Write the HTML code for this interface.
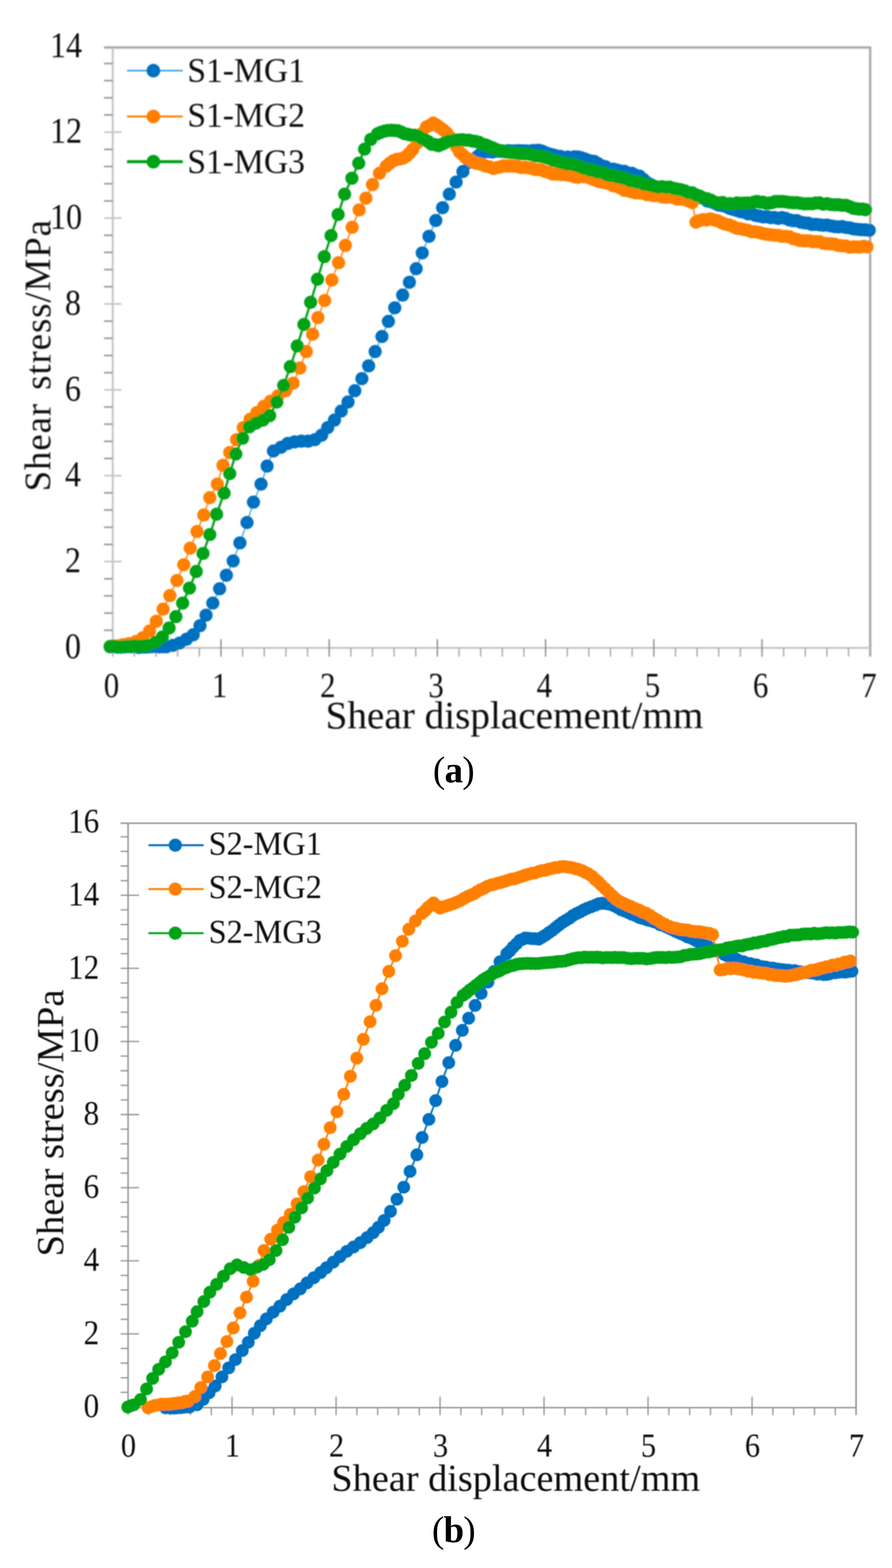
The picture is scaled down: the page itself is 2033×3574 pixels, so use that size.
<!DOCTYPE html>
<html lang="en"><head><meta charset="utf-8"><title>Shear stress vs. shear displacement</title>
<style>html,body{margin:0;padding:0;background:#fff}body{width:2033px;height:3574px;overflow:hidden}svg{display:block}text{font-family:'Liberation Serif',serif;fill:#111}</style></head>
<body>
<svg width="2033" height="3574" viewBox="0 0 2033 3574">
<defs><filter id="ba" x="-5%" y="-5%" width="110%" height="110%"><feGaussianBlur stdDeviation="1.7"/></filter><filter id="bb" x="-5%" y="-5%" width="110%" height="110%"><feGaussianBlur stdDeviation="0.9"/></filter></defs>
<rect width="2033" height="3574" fill="#fff"/>
<g id="chart-a" filter="url(#ba)">
<path d="M237.0 108.2H1983.3V1496.8" fill="none" stroke="#ababab" stroke-width="5.5" stroke-linejoin="round"/>
<path d="M257.0 108.2V1476.8H1983.3" fill="none" stroke="#c6c6c6" stroke-width="4.5"/>
<path d="M237.0 1436.6H257.0M237.0 1397.5H257.0M237.0 1358.3H257.0M237.0 1319.2H257.0M237.0 1240.9H257.0M237.0 1201.7H257.0M237.0 1162.6H257.0M237.0 1123.4H257.0M237.0 1045.1H257.0M237.0 1006.0H257.0M237.0 966.8H257.0M237.0 927.7H257.0M237.0 849.4H257.0M237.0 810.2H257.0M237.0 771.1H257.0M237.0 731.9H257.0M237.0 653.6H257.0M237.0 614.5H257.0M237.0 575.3H257.0M237.0 536.2H257.0M237.0 457.9H257.0M237.0 418.7H257.0M237.0 379.6H257.0M237.0 340.4H257.0M237.0 262.1H257.0M237.0 223.0H257.0M237.0 183.8H257.0M237.0 144.7H257.0" fill="none" stroke="#a0a0a0" stroke-width="4"/>
<path d="M237.0 1280.0H277.0M237.0 1084.3H277.0M237.0 888.5H277.0M237.0 692.8H277.0M237.0 497.0H277.0M237.0 301.3H277.0" fill="none" stroke="#c8c8c8" stroke-width="4"/>
<path d="M257.0 1476.8V1496.8M306.3 1476.8V1496.8M355.6 1476.8V1496.8M405.0 1476.8V1496.8M454.3 1476.8V1496.8M552.9 1476.8V1496.8M602.3 1476.8V1496.8M651.6 1476.8V1496.8M700.9 1476.8V1496.8M799.6 1476.8V1496.8M848.9 1476.8V1496.8M898.2 1476.8V1496.8M947.5 1476.8V1496.8M1046.2 1476.8V1496.8M1095.5 1476.8V1496.8M1144.8 1476.8V1496.8M1194.1 1476.8V1496.8M1292.8 1476.8V1496.8M1342.1 1476.8V1496.8M1391.4 1476.8V1496.8M1440.7 1476.8V1496.8M1539.4 1476.8V1496.8M1588.7 1476.8V1496.8M1638.0 1476.8V1496.8M1687.4 1476.8V1496.8M1786.0 1476.8V1496.8M1835.3 1476.8V1496.8M1884.7 1476.8V1496.8M1934.0 1476.8V1496.8" fill="none" stroke="#a4a4a4" stroke-width="3"/>
<path d="M503.6 1456.8V1496.8M750.2 1456.8V1496.8M996.8 1456.8V1496.8M1243.5 1456.8V1496.8M1490.1 1456.8V1496.8M1736.7 1456.8V1496.8" fill="none" stroke="#888" stroke-width="3"/>
<path d="M251.0 1474.3 L259.2 1473.8 L267.3 1475.2 L275.5 1475.2 L283.7 1474.7 L291.8 1473.9 L300.0 1474.3 L308.0 1473.1 L316.0 1475.8 L324.0 1474.9 L332.0 1475.1 L340.0 1474.3 L347.7 1473.7 L355.4 1473.7 L363.2 1474.4 L370.9 1473.9 L378.6 1474.3 L394.0 1470.9 L409.5 1465.7 L424.9 1457.1 L440.4 1446.8 L455.8 1426.2 L469.6 1402.2 L485.0 1374.7 L500.5 1342.1 L515.9 1311.2 L531.4 1278.6 L546.8 1237.4 L563.0 1191.0 L577.7 1144.6 L594.9 1103.4 L608.8 1062.3 L623.2 1028.0 L640.4 1019.4 L655.8 1010.8 L671.3 1007.3 L686.7 1005.6 L702.2 1005.6 L717.7 1002.2 L733.1 991.9 L746.8 974.7 L762.3 957.6 L777.7 937.0 L793.2 916.3 L808.7 890.6 L824.8 863.1 L840.2 833.9 L855.0 801.3 L870.5 767.0 L885.2 732.6 L899.7 701.7 L917.7 672.6 L933.1 643.4 L948.6 612.5 L962.3 576.4 L977.7 538.7 L993.2 502.6 L1008.7 473.4 L1024.1 442.5 L1039.6 415.0 L1055.0 391.0 L1070.5 370.0 L1086.8 358.0 L1093.4 352.8 L1100.0 348.0 L1107.5 346.0 L1115.0 345.6 L1122.0 346.5 L1129.0 344.6 L1136.0 344.6 L1143.0 345.3 L1150.0 345.0 L1158.3 343.4 L1166.7 344.1 L1175.0 343.7 L1183.3 343.4 L1191.7 343.8 L1200.0 344.0 L1206.9 345.0 L1213.8 343.3 L1220.6 343.3 L1227.5 342.4 L1235.5 344.5 L1243.5 348.2 L1251.5 351.0 L1260.1 352.9 L1268.7 355.6 L1277.3 356.6 L1285.9 359.5 L1293.6 358.0 L1301.3 359.6 L1309.1 357.4 L1316.8 357.8 L1324.3 359.6 L1331.9 361.9 L1339.4 365.1 L1347.0 366.9 L1354.5 368.1 L1363.1 373.1 L1371.7 378.0 L1380.3 380.1 L1388.9 385.3 L1397.5 385.6 L1406.1 387.6 L1414.6 390.0 L1423.2 390.5 L1431.8 394.5 L1440.4 395.0 L1449.0 399.6 L1457.6 401.5 L1466.2 408.8 L1474.7 416.0 L1483.3 420.8 L1491.9 428.0 L1500.5 429.4 L1509.1 429.9 L1517.6 427.7 L1526.2 429.0 L1534.8 430.4 L1543.4 432.8 L1552.0 434.8 L1560.6 438.0 L1569.2 442.4 L1577.8 444.0 L1586.3 447.5 L1594.9 450.0 L1603.5 452.5 L1612.1 458.2 L1620.7 460.1 L1629.3 463.5 L1637.8 467.4 L1646.4 468.4 L1654.6 471.0 L1662.8 474.8 L1671.1 477.4 L1679.3 479.7 L1687.5 482.3 L1696.1 483.9 L1704.7 487.5 L1713.3 487.3 L1721.9 490.9 L1730.5 492.4 L1739.1 494.5 L1747.6 494.1 L1756.2 496.1 L1764.8 495.7 L1773.4 497.8 L1782.0 496.1 L1790.6 497.8 L1799.2 501.3 L1807.8 503.1 L1816.3 503.1 L1824.9 506.4 L1833.5 507.9 L1842.1 508.8 L1850.6 511.7 L1859.2 511.5 L1867.8 512.6 L1876.4 513.5 L1885.0 513.0 L1893.6 515.0 L1902.2 516.5 L1910.8 517.2 L1919.3 516.6 L1927.9 518.4 L1936.5 519.3 L1945.1 521.7 L1953.7 522.7 L1962.3 523.6 L1971.7 523.8 L1981.1 524.9" fill="none" stroke="#2f9cdb" stroke-width="2.6" stroke-linejoin="round"/>
<path d="M251.0 1474.3h0M259.2 1473.8h0M267.3 1475.2h0M275.5 1475.2h0M283.7 1474.7h0M291.8 1473.9h0M300.0 1474.3h0M308.0 1473.1h0M316.0 1475.8h0M324.0 1474.9h0M332.0 1475.1h0M340.0 1474.3h0M347.7 1473.7h0M355.4 1473.7h0M363.2 1474.4h0M370.9 1473.9h0M378.6 1474.3h0M394.0 1470.9h0M409.5 1465.7h0M424.9 1457.1h0M440.4 1446.8h0M455.8 1426.2h0M469.6 1402.2h0M485.0 1374.7h0M500.5 1342.1h0M515.9 1311.2h0M531.4 1278.6h0M546.8 1237.4h0M563.0 1191.0h0M577.7 1144.6h0M594.9 1103.4h0M608.8 1062.3h0M623.2 1028.0h0M640.4 1019.4h0M655.8 1010.8h0M671.3 1007.3h0M686.7 1005.6h0M702.2 1005.6h0M717.7 1002.2h0M733.1 991.9h0M746.8 974.7h0M762.3 957.6h0M777.7 937.0h0M793.2 916.3h0M808.7 890.6h0M824.8 863.1h0M840.2 833.9h0M855.0 801.3h0M870.5 767.0h0M885.2 732.6h0M899.7 701.7h0M917.7 672.6h0M933.1 643.4h0M948.6 612.5h0M962.3 576.4h0M977.7 538.7h0M993.2 502.6h0M1008.7 473.4h0M1024.1 442.5h0M1039.6 415.0h0M1055.0 391.0h0M1070.5 370.0h0M1086.8 358.0h0M1093.4 352.8h0M1100.0 348.0h0M1107.5 346.0h0M1115.0 345.6h0M1122.0 346.5h0M1129.0 344.6h0M1136.0 344.6h0M1143.0 345.3h0M1150.0 345.0h0M1158.3 343.4h0M1166.7 344.1h0M1175.0 343.7h0M1183.3 343.4h0M1191.7 343.8h0M1200.0 344.0h0M1206.9 345.0h0M1213.8 343.3h0M1220.6 343.3h0M1227.5 342.4h0M1235.5 344.5h0M1243.5 348.2h0M1251.5 351.0h0M1260.1 352.9h0M1268.7 355.6h0M1277.3 356.6h0M1285.9 359.5h0M1293.6 358.0h0M1301.3 359.6h0M1309.1 357.4h0M1316.8 357.8h0M1324.3 359.6h0M1331.9 361.9h0M1339.4 365.1h0M1347.0 366.9h0M1354.5 368.1h0M1363.1 373.1h0M1371.7 378.0h0M1380.3 380.1h0M1388.9 385.3h0M1397.5 385.6h0M1406.1 387.6h0M1414.6 390.0h0M1423.2 390.5h0M1431.8 394.5h0M1440.4 395.0h0M1449.0 399.6h0M1457.6 401.5h0M1466.2 408.8h0M1474.7 416.0h0M1483.3 420.8h0M1491.9 428.0h0M1500.5 429.4h0M1509.1 429.9h0M1517.6 427.7h0M1526.2 429.0h0M1534.8 430.4h0M1543.4 432.8h0M1552.0 434.8h0M1560.6 438.0h0M1569.2 442.4h0M1577.8 444.0h0M1586.3 447.5h0M1594.9 450.0h0M1603.5 452.5h0M1612.1 458.2h0M1620.7 460.1h0M1629.3 463.5h0M1637.8 467.4h0M1646.4 468.4h0M1654.6 471.0h0M1662.8 474.8h0M1671.1 477.4h0M1679.3 479.7h0M1687.5 482.3h0M1696.1 483.9h0M1704.7 487.5h0M1713.3 487.3h0M1721.9 490.9h0M1730.5 492.4h0M1739.1 494.5h0M1747.6 494.1h0M1756.2 496.1h0M1764.8 495.7h0M1773.4 497.8h0M1782.0 496.1h0M1790.6 497.8h0M1799.2 501.3h0M1807.8 503.1h0M1816.3 503.1h0M1824.9 506.4h0M1833.5 507.9h0M1842.1 508.8h0M1850.6 511.7h0M1859.2 511.5h0M1867.8 512.6h0M1876.4 513.5h0M1885.0 513.0h0M1893.6 515.0h0M1902.2 516.5h0M1910.8 517.2h0M1919.3 516.6h0M1927.9 518.4h0M1936.5 519.3h0M1945.1 521.7h0M1953.7 522.7h0M1962.3 523.6h0M1971.7 523.8h0M1981.1 524.9h0" fill="none" stroke="#0070c0" stroke-width="30.0" stroke-linecap="round"/>
<path d="M251.0 1473.6 L258.0 1472.2 L265.0 1472.7 L272.0 1471.8 L279.0 1470.0 L286.7 1468.9 L294.4 1467.0 L309.9 1462.3 L325.3 1453.7 L340.8 1438.3 L356.3 1415.9 L371.7 1388.5 L387.2 1357.6 L403.3 1323.2 L418.8 1287.2 L433.5 1249.4 L449.0 1211.6 L464.4 1173.8 L478.2 1134.3 L495.3 1103.4 L508.2 1060.6 L523.6 1031.4 L539.1 1002.2 L554.5 974.7 L570.0 955.8 L585.4 940.4 L600.9 926.6 L616.3 914.6 L633.5 902.6 L650.7 890.6 L667.9 873.4 L683.3 839.1 L698.1 801.3 L712.5 761.8 L724.5 724.0 L740.0 685.0 L756.3 638.3 L771.7 598.8 L787.2 559.3 L802.6 518.1 L818.5 478.4 L834.0 451.7 L849.0 420.8 L864.8 395.0 L880.3 378.8 L888.0 372.3 L895.8 366.7 L903.5 363.4 L911.2 362.5 L918.9 360.5 L926.6 355.6 L933.5 348.9 L940.4 341.0 L951.5 325.5 L961.0 305.0 L971.7 289.5 L979.5 285.8 L987.2 280.5 L994.9 284.9 L1002.6 290.5 L1010.4 296.2 L1018.1 303.0 L1025.8 313.0 L1033.5 322.8 L1040.4 334.2 L1047.3 346.5 L1054.2 352.5 L1061.0 359.1 L1068.7 362.7 L1076.4 367.9 L1084.2 371.7 L1091.9 373.4 L1099.6 375.3 L1107.3 378.6 L1115.9 380.5 L1124.5 383.7 L1132.2 382.2 L1140.0 380.3 L1147.7 378.0 L1155.4 378.6 L1163.2 378.1 L1170.9 378.6 L1179.5 379.5 L1188.0 382.0 L1196.0 381.6 L1204.1 382.7 L1212.1 383.7 L1219.5 386.4 L1226.9 386.5 L1234.3 387.7 L1242.3 391.0 L1250.4 392.7 L1258.4 396.3 L1265.3 396.8 L1272.2 396.9 L1279.0 398.0 L1285.9 398.0 L1293.9 399.0 L1301.9 400.4 L1309.9 403.2 L1316.8 404.1 L1323.7 402.4 L1330.5 402.9 L1337.4 403.2 L1346.0 406.6 L1354.5 409.9 L1363.1 413.1 L1371.7 415.0 L1380.3 416.9 L1388.9 418.3 L1397.5 423.5 L1406.1 425.2 L1414.6 429.0 L1423.2 433.8 L1431.8 435.0 L1440.4 437.6 L1449.0 439.6 L1457.6 439.8 L1466.2 440.4 L1474.8 443.8 L1483.3 444.5 L1491.9 446.1 L1500.5 445.6 L1509.1 448.7 L1517.6 449.7 L1526.2 449.0 L1534.8 450.4 L1543.4 453.9 L1552.0 453.6 L1560.6 455.0 L1569.2 457.8 L1577.7 462.0 L1586.3 506.5 L1594.0 502.7 L1601.8 500.8 L1610.4 501.3 L1619.0 499.0 L1627.5 501.2 L1636.1 503.5 L1644.7 507.7 L1653.3 511.0 L1661.9 512.7 L1670.5 516.2 L1679.0 520.2 L1687.6 521.4 L1696.2 523.2 L1704.7 524.9 L1713.3 528.1 L1721.9 528.4 L1730.5 529.9 L1739.1 532.6 L1747.6 534.1 L1756.2 535.2 L1764.8 536.2 L1773.4 536.4 L1782.0 538.7 L1790.6 538.7 L1799.2 539.8 L1807.7 543.8 L1815.7 545.8 L1823.8 548.3 L1831.8 549.0 L1838.7 548.7 L1845.5 549.0 L1852.3 551.1 L1859.2 550.7 L1867.8 550.7 L1876.4 554.6 L1885.0 555.6 L1893.6 555.8 L1902.2 556.4 L1910.7 559.3 L1919.3 560.3 L1927.9 560.8 L1936.5 563.3 L1945.1 562.7 L1952.8 562.9 L1960.5 562.9 L1968.3 561.5 L1976.0 562.7" fill="none" stroke="#ff7f00" stroke-width="3" stroke-linejoin="round"/>
<path d="M251.0 1473.6h0M258.0 1472.2h0M265.0 1472.7h0M272.0 1471.8h0M279.0 1470.0h0M286.7 1468.9h0M294.4 1467.0h0M309.9 1462.3h0M325.3 1453.7h0M340.8 1438.3h0M356.3 1415.9h0M371.7 1388.5h0M387.2 1357.6h0M403.3 1323.2h0M418.8 1287.2h0M433.5 1249.4h0M449.0 1211.6h0M464.4 1173.8h0M478.2 1134.3h0M495.3 1103.4h0M508.2 1060.6h0M523.6 1031.4h0M539.1 1002.2h0M554.5 974.7h0M570.0 955.8h0M585.4 940.4h0M600.9 926.6h0M616.3 914.6h0M633.5 902.6h0M650.7 890.6h0M667.9 873.4h0M683.3 839.1h0M698.1 801.3h0M712.5 761.8h0M724.5 724.0h0M740.0 685.0h0M756.3 638.3h0M771.7 598.8h0M787.2 559.3h0M802.6 518.1h0M818.5 478.4h0M834.0 451.7h0M849.0 420.8h0M864.8 395.0h0M880.3 378.8h0M888.0 372.3h0M895.8 366.7h0M903.5 363.4h0M911.2 362.5h0M918.9 360.5h0M926.6 355.6h0M933.5 348.9h0M940.4 341.0h0M951.5 325.5h0M961.0 305.0h0M971.7 289.5h0M979.5 285.8h0M987.2 280.5h0M994.9 284.9h0M1002.6 290.5h0M1010.4 296.2h0M1018.1 303.0h0M1025.8 313.0h0M1033.5 322.8h0M1040.4 334.2h0M1047.3 346.5h0M1054.2 352.5h0M1061.0 359.1h0M1068.7 362.7h0M1076.4 367.9h0M1084.2 371.7h0M1091.9 373.4h0M1099.6 375.3h0M1107.3 378.6h0M1115.9 380.5h0M1124.5 383.7h0M1132.2 382.2h0M1140.0 380.3h0M1147.7 378.0h0M1155.4 378.6h0M1163.2 378.1h0M1170.9 378.6h0M1179.5 379.5h0M1188.0 382.0h0M1196.0 381.6h0M1204.1 382.7h0M1212.1 383.7h0M1219.5 386.4h0M1226.9 386.5h0M1234.3 387.7h0M1242.3 391.0h0M1250.4 392.7h0M1258.4 396.3h0M1265.3 396.8h0M1272.2 396.9h0M1279.0 398.0h0M1285.9 398.0h0M1293.9 399.0h0M1301.9 400.4h0M1309.9 403.2h0M1316.8 404.1h0M1323.7 402.4h0M1330.5 402.9h0M1337.4 403.2h0M1346.0 406.6h0M1354.5 409.9h0M1363.1 413.1h0M1371.7 415.0h0M1380.3 416.9h0M1388.9 418.3h0M1397.5 423.5h0M1406.1 425.2h0M1414.6 429.0h0M1423.2 433.8h0M1431.8 435.0h0M1440.4 437.6h0M1449.0 439.6h0M1457.6 439.8h0M1466.2 440.4h0M1474.8 443.8h0M1483.3 444.5h0M1491.9 446.1h0M1500.5 445.6h0M1509.1 448.7h0M1517.6 449.7h0M1526.2 449.0h0M1534.8 450.4h0M1543.4 453.9h0M1552.0 453.6h0M1560.6 455.0h0M1569.2 457.8h0M1577.7 462.0h0M1586.3 506.5h0M1594.0 502.7h0M1601.8 500.8h0M1610.4 501.3h0M1619.0 499.0h0M1627.5 501.2h0M1636.1 503.5h0M1644.7 507.7h0M1653.3 511.0h0M1661.9 512.7h0M1670.5 516.2h0M1679.0 520.2h0M1687.6 521.4h0M1696.2 523.2h0M1704.7 524.9h0M1713.3 528.1h0M1721.9 528.4h0M1730.5 529.9h0M1739.1 532.6h0M1747.6 534.1h0M1756.2 535.2h0M1764.8 536.2h0M1773.4 536.4h0M1782.0 538.7h0M1790.6 538.7h0M1799.2 539.8h0M1807.7 543.8h0M1815.7 545.8h0M1823.8 548.3h0M1831.8 549.0h0M1838.7 548.7h0M1845.5 549.0h0M1852.3 551.1h0M1859.2 550.7h0M1867.8 550.7h0M1876.4 554.6h0M1885.0 555.6h0M1893.6 555.8h0M1902.2 556.4h0M1910.7 559.3h0M1919.3 560.3h0M1927.9 560.8h0M1936.5 563.3h0M1945.1 562.7h0M1952.8 562.9h0M1960.5 562.9h0M1968.3 561.5h0M1976.0 562.7h0" fill="none" stroke="#ff7f00" stroke-width="30.0" stroke-linecap="round"/>
<path d="M251.0 1473.6 L259.2 1473.1 L267.3 1474.5 L275.5 1474.5 L283.7 1474.0 L291.8 1473.2 L300.0 1473.6 L307.5 1471.9 L315.0 1474.0 L322.4 1472.6 L329.9 1472.3 L337.4 1470.9 L354.5 1464.0 L370.0 1452.0 L385.4 1431.4 L400.9 1405.6 L416.3 1374.7 L431.8 1340.4 L447.3 1302.6 L462.7 1261.4 L478.2 1218.5 L493.6 1172.1 L510.8 1124.0 L523.6 1079.5 L537.4 1034.8 L552.8 998.8 L568.3 973.0 L583.7 964.4 L599.2 957.6 L614.6 947.3 L630.8 916.3 L646.6 878.6 L661.7 835.6 L677.5 788.6 L692.6 739.5 L708.0 689.0 L723.6 636.5 L739.1 585.0 L754.5 537.0 L770.7 488.9 L785.4 442.5 L802.0 406.3 L817.6 372.0 L830.9 340.0 L845.0 317.8 L860.5 305.0 L868.2 301.4 L876.0 299.0 L883.8 297.4 L891.5 297.0 L899.0 297.6 L906.5 297.9 L914.2 300.9 L921.9 304.7 L929.6 306.2 L937.4 308.2 L945.1 308.2 L952.8 309.9 L960.5 315.2 L968.3 318.5 L976.0 322.9 L983.7 328.8 L991.5 329.8 L999.2 332.2 L1006.9 329.0 L1014.6 325.3 L1022.3 321.7 L1030.1 321.0 L1037.8 319.5 L1045.5 319.0 L1053.2 318.5 L1061.0 319.5 L1068.7 319.5 L1076.4 321.5 L1084.2 322.6 L1091.9 324.5 L1099.6 328.9 L1107.3 330.5 L1115.0 333.9 L1122.8 337.0 L1130.5 340.5 L1138.3 343.0 L1146.0 344.0 L1153.7 346.5 L1161.7 347.4 L1169.7 348.0 L1177.7 349.0 L1186.3 350.3 L1194.9 350.2 L1203.5 350.8 L1212.1 352.8 L1220.7 355.5 L1229.2 355.4 L1237.8 357.7 L1246.4 359.7 L1253.8 362.2 L1261.3 365.7 L1268.7 367.1 L1276.5 369.7 L1284.3 371.2 L1292.2 373.6 L1300.0 374.0 L1307.5 375.2 L1315.0 377.2 L1322.4 380.0 L1329.9 383.2 L1337.4 384.5 L1345.0 387.8 L1352.6 387.6 L1360.3 391.6 L1367.9 392.8 L1375.5 393.6 L1383.1 398.1 L1390.8 400.4 L1398.4 400.1 L1406.0 403.2 L1413.6 404.2 L1421.3 406.3 L1428.9 408.0 L1436.5 412.2 L1444.2 412.7 L1451.8 415.1 L1459.4 415.6 L1467.1 419.8 L1474.7 420.3 L1483.3 422.6 L1491.9 424.8 L1500.5 426.7 L1509.1 425.4 L1517.6 426.9 L1526.2 426.5 L1534.8 429.3 L1543.4 431.0 L1552.0 432.4 L1560.6 435.1 L1569.2 439.0 L1577.8 439.6 L1586.3 444.3 L1594.9 447.1 L1603.5 451.6 L1612.1 453.3 L1620.7 456.6 L1629.3 460.9 L1637.9 462.6 L1646.4 461.4 L1655.0 464.8 L1663.6 464.3 L1671.8 465.0 L1680.0 462.5 L1688.3 463.6 L1696.5 462.9 L1704.7 462.8 L1711.6 463.1 L1718.4 460.7 L1725.3 459.3 L1732.2 460.9 L1739.0 460.9 L1745.9 463.5 L1752.8 463.1 L1759.7 461.9 L1766.5 459.4 L1773.4 459.3 L1782.0 459.3 L1790.6 460.0 L1799.2 461.5 L1807.8 462.1 L1816.3 462.1 L1824.9 463.5 L1833.5 464.7 L1842.1 464.3 L1850.6 464.4 L1859.2 462.8 L1867.8 462.4 L1876.4 465.5 L1885.0 464.2 L1893.6 466.2 L1902.2 466.7 L1910.8 466.8 L1919.3 467.9 L1927.9 467.9 L1936.5 471.0 L1945.1 474.8 L1952.0 475.8 L1958.8 476.7 L1965.7 476.4 L1972.6 477.9" fill="none" stroke="#00a316" stroke-width="5" stroke-linejoin="round"/>
<path d="M251.0 1473.6h0M259.2 1473.1h0M267.3 1474.5h0M275.5 1474.5h0M283.7 1474.0h0M291.8 1473.2h0M300.0 1473.6h0M307.5 1471.9h0M315.0 1474.0h0M322.4 1472.6h0M329.9 1472.3h0M337.4 1470.9h0M354.5 1464.0h0M370.0 1452.0h0M385.4 1431.4h0M400.9 1405.6h0M416.3 1374.7h0M431.8 1340.4h0M447.3 1302.6h0M462.7 1261.4h0M478.2 1218.5h0M493.6 1172.1h0M510.8 1124.0h0M523.6 1079.5h0M537.4 1034.8h0M552.8 998.8h0M568.3 973.0h0M583.7 964.4h0M599.2 957.6h0M614.6 947.3h0M630.8 916.3h0M646.6 878.6h0M661.7 835.6h0M677.5 788.6h0M692.6 739.5h0M708.0 689.0h0M723.6 636.5h0M739.1 585.0h0M754.5 537.0h0M770.7 488.9h0M785.4 442.5h0M802.0 406.3h0M817.6 372.0h0M830.9 340.0h0M845.0 317.8h0M860.5 305.0h0M868.2 301.4h0M876.0 299.0h0M883.8 297.4h0M891.5 297.0h0M899.0 297.6h0M906.5 297.9h0M914.2 300.9h0M921.9 304.7h0M929.6 306.2h0M937.4 308.2h0M945.1 308.2h0M952.8 309.9h0M960.5 315.2h0M968.3 318.5h0M976.0 322.9h0M983.7 328.8h0M991.5 329.8h0M999.2 332.2h0M1006.9 329.0h0M1014.6 325.3h0M1022.3 321.7h0M1030.1 321.0h0M1037.8 319.5h0M1045.5 319.0h0M1053.2 318.5h0M1061.0 319.5h0M1068.7 319.5h0M1076.4 321.5h0M1084.2 322.6h0M1091.9 324.5h0M1099.6 328.9h0M1107.3 330.5h0M1115.0 333.9h0M1122.8 337.0h0M1130.5 340.5h0M1138.3 343.0h0M1146.0 344.0h0M1153.7 346.5h0M1161.7 347.4h0M1169.7 348.0h0M1177.7 349.0h0M1186.3 350.3h0M1194.9 350.2h0M1203.5 350.8h0M1212.1 352.8h0M1220.7 355.5h0M1229.2 355.4h0M1237.8 357.7h0M1246.4 359.7h0M1253.8 362.2h0M1261.3 365.7h0M1268.7 367.1h0M1276.5 369.7h0M1284.3 371.2h0M1292.2 373.6h0M1300.0 374.0h0M1307.5 375.2h0M1315.0 377.2h0M1322.4 380.0h0M1329.9 383.2h0M1337.4 384.5h0M1345.0 387.8h0M1352.6 387.6h0M1360.3 391.6h0M1367.9 392.8h0M1375.5 393.6h0M1383.1 398.1h0M1390.8 400.4h0M1398.4 400.1h0M1406.0 403.2h0M1413.6 404.2h0M1421.3 406.3h0M1428.9 408.0h0M1436.5 412.2h0M1444.2 412.7h0M1451.8 415.1h0M1459.4 415.6h0M1467.1 419.8h0M1474.7 420.3h0M1483.3 422.6h0M1491.9 424.8h0M1500.5 426.7h0M1509.1 425.4h0M1517.6 426.9h0M1526.2 426.5h0M1534.8 429.3h0M1543.4 431.0h0M1552.0 432.4h0M1560.6 435.1h0M1569.2 439.0h0M1577.8 439.6h0M1586.3 444.3h0M1594.9 447.1h0M1603.5 451.6h0M1612.1 453.3h0M1620.7 456.6h0M1629.3 460.9h0M1637.9 462.6h0M1646.4 461.4h0M1655.0 464.8h0M1663.6 464.3h0M1671.8 465.0h0M1680.0 462.5h0M1688.3 463.6h0M1696.5 462.9h0M1704.7 462.8h0M1711.6 463.1h0M1718.4 460.7h0M1725.3 459.3h0M1732.2 460.9h0M1739.0 460.9h0M1745.9 463.5h0M1752.8 463.1h0M1759.7 461.9h0M1766.5 459.4h0M1773.4 459.3h0M1782.0 459.3h0M1790.6 460.0h0M1799.2 461.5h0M1807.8 462.1h0M1816.3 462.1h0M1824.9 463.5h0M1833.5 464.7h0M1842.1 464.3h0M1850.6 464.4h0M1859.2 462.8h0M1867.8 462.4h0M1876.4 465.5h0M1885.0 464.2h0M1893.6 466.2h0M1902.2 466.7h0M1910.8 466.8h0M1919.3 467.9h0M1927.9 467.9h0M1936.5 471.0h0M1945.1 474.8h0M1952.0 475.8h0M1958.8 476.7h0M1965.7 476.4h0M1972.6 477.9h0" fill="none" stroke="#00a316" stroke-width="30.0" stroke-linecap="round"/>
<g font-size="83" text-anchor="end">
<text x="184.5" y="1499.8" textLength="36.5" lengthAdjust="spacingAndGlyphs">0</text>
<text x="184.5" y="1304.0" textLength="36.5" lengthAdjust="spacingAndGlyphs">2</text>
<text x="184.5" y="1108.3" textLength="36.5" lengthAdjust="spacingAndGlyphs">4</text>
<text x="184.5" y="912.5" textLength="36.5" lengthAdjust="spacingAndGlyphs">6</text>
<text x="184.5" y="716.8" textLength="36.5" lengthAdjust="spacingAndGlyphs">8</text>
<text x="187.0" y="521.0" textLength="73.0" lengthAdjust="spacingAndGlyphs">10</text>
<text x="187.0" y="325.3" textLength="73.0" lengthAdjust="spacingAndGlyphs">12</text>
<text x="187.0" y="129.5" textLength="73.0" lengthAdjust="spacingAndGlyphs">14</text>
</g>
<g font-size="80" text-anchor="middle">
<text x="254.0" y="1589.0" textLength="35.2" lengthAdjust="spacingAndGlyphs">0</text>
<text x="500.6" y="1589.0" textLength="35.2" lengthAdjust="spacingAndGlyphs">1</text>
<text x="747.2" y="1589.0" textLength="35.2" lengthAdjust="spacingAndGlyphs">2</text>
<text x="993.8" y="1589.0" textLength="35.2" lengthAdjust="spacingAndGlyphs">3</text>
<text x="1240.5" y="1589.0" textLength="35.2" lengthAdjust="spacingAndGlyphs">4</text>
<text x="1487.1" y="1589.0" textLength="35.2" lengthAdjust="spacingAndGlyphs">5</text>
<text x="1733.7" y="1589.0" textLength="35.2" lengthAdjust="spacingAndGlyphs">6</text>
<text x="1980.3" y="1589.0" textLength="35.2" lengthAdjust="spacingAndGlyphs">7</text>
</g>
<text x="1172.5" y="1659.5" font-size="88" text-anchor="middle" textLength="861" lengthAdjust="spacingAndGlyphs">Shear displacement/mm</text>
<text transform="translate(114.5 810.8) rotate(-90)" font-size="84" text-anchor="middle" word-spacing="7" textLength="618.4" lengthAdjust="spacing">Shear stress/MPa</text>
<path d="M289.5 161.1H416.6" stroke="#2f9cdb" stroke-width="3.5" fill="none"/><circle cx="349.6" cy="161.1" r="15.5" fill="#0070c0"/><text x="427.0" y="185.9" font-size="79" textLength="268" lengthAdjust="spacingAndGlyphs">S1-MG1</text>
<path d="M289.5 265.5H416.6" stroke="#ff7f00" stroke-width="4.5" fill="none"/><circle cx="349.6" cy="265.5" r="15.5" fill="#ff7f00"/><text x="427.0" y="288.2" font-size="79" textLength="268" lengthAdjust="spacingAndGlyphs">S1-MG2</text>
<path d="M289.5 368.5H416.6" stroke="#00a316" stroke-width="7" fill="none"/><circle cx="349.6" cy="368.5" r="15.5" fill="#00a316"/><text x="427.0" y="393.6" font-size="79" textLength="268" lengthAdjust="spacingAndGlyphs">S1-MG3</text>
</g>
<text x="1033.5" y="1783" font-size="84" letter-spacing="-1.5" text-anchor="middle" fill="#000" style="fill:#000">(<tspan font-weight="bold">a</tspan>)</text>
<g id="chart-b" filter="url(#bb)">
<path d="M274.9 1876.4H1951.1V3225.5" fill="none" stroke="#8e8e8e" stroke-width="3.4" stroke-linejoin="round"/>
<path d="M291.9 1876.4V3208.5H1951.1" fill="none" stroke="#8e8e8e" stroke-width="3.2"/>
<path d="M274.9 3173.7H291.9M274.9 3140.3H291.9M274.9 3107.0H291.9M274.9 3073.7H291.9M274.9 3007.1H291.9M274.9 2973.7H291.9M274.9 2940.4H291.9M274.9 2907.1H291.9M274.9 2840.4H291.9M274.9 2807.1H291.9M274.9 2773.8H291.9M274.9 2740.4H291.9M274.9 2673.8H291.9M274.9 2640.5H291.9M274.9 2607.2H291.9M274.9 2573.8H291.9M274.9 2507.2H291.9M274.9 2473.8H291.9M274.9 2440.5H291.9M274.9 2407.2H291.9M274.9 2340.6H291.9M274.9 2307.2H291.9M274.9 2273.9H291.9M274.9 2240.6H291.9M274.9 2173.9H291.9M274.9 2140.6H291.9M274.9 2107.3H291.9M274.9 2073.9H291.9M274.9 2007.3H291.9M274.9 1974.0H291.9M274.9 1940.6H291.9M274.9 1907.3H291.9" fill="none" stroke="#8e8e8e" stroke-width="2.8"/>
<path d="M274.9 3040.4H316.9M274.9 2873.8H316.9M274.9 2707.1H316.9M274.9 2540.5H316.9M274.9 2373.9H316.9M274.9 2207.2H316.9M274.9 2040.6H316.9" fill="none" stroke="#8e8e8e" stroke-width="2.8"/>
<path d="M291.9 3208.5V3225.5M339.3 3208.5V3225.5M386.7 3208.5V3225.5M434.1 3208.5V3225.5M481.5 3208.5V3225.5M576.3 3208.5V3225.5M623.7 3208.5V3225.5M671.1 3208.5V3225.5M718.6 3208.5V3225.5M813.4 3208.5V3225.5M860.8 3208.5V3225.5M908.2 3208.5V3225.5M955.6 3208.5V3225.5M1050.4 3208.5V3225.5M1097.8 3208.5V3225.5M1145.2 3208.5V3225.5M1192.6 3208.5V3225.5M1287.4 3208.5V3225.5M1334.8 3208.5V3225.5M1382.2 3208.5V3225.5M1429.6 3208.5V3225.5M1524.4 3208.5V3225.5M1571.9 3208.5V3225.5M1619.3 3208.5V3225.5M1666.7 3208.5V3225.5M1761.5 3208.5V3225.5M1808.9 3208.5V3225.5M1856.3 3208.5V3225.5M1903.7 3208.5V3225.5" fill="none" stroke="#8e8e8e" stroke-width="2.8"/>
<path d="M528.9 3183.5V3225.5M766.0 3183.5V3225.5M1003.0 3183.5V3225.5M1240.0 3183.5V3225.5M1477.0 3183.5V3225.5M1714.1 3183.5V3225.5" fill="none" stroke="#8e8e8e" stroke-width="2.8"/>
<path d="M377.1 3208.9 L384.0 3208.6 L390.8 3209.5 L397.6 3209.5 L404.5 3208.9 L411.4 3208.7 L418.2 3207.7 L425.1 3206.8 L432.0 3207.1 L449.2 3202.0 L462.9 3190.0 L476.6 3174.5 L490.4 3159.1 L505.8 3138.5 L521.3 3117.9 L536.7 3099.0 L552.2 3078.4 L565.9 3059.5 L579.7 3038.9 L593.4 3021.7 L607.1 3006.3 L622.6 2990.8 L638.0 2977.1 L653.5 2962.2 L669.0 2949.1 L684.4 2937.7 L699.9 2924.1 L715.3 2912.4 L730.8 2900.6 L744.0 2889.6 L759.5 2876.9 L774.9 2864.1 L790.4 2852.3 L805.8 2842.3 L821.3 2832.4 L836.7 2820.9 L850.5 2809.6 L862.5 2797.4 L875.5 2781.8 L890.0 2761.1 L904.7 2733.5 L920.2 2706.0 L934.6 2670.0 L950.1 2632.2 L962.1 2592.7 L977.5 2551.5 L993.0 2508.6 L1007.3 2465.1 L1022.8 2422.2 L1038.3 2382.7 L1053.7 2348.4 L1068.1 2320.9 L1082.9 2291.7 L1096.6 2264.2 L1112.1 2238.5 L1125.8 2214.4 L1139.6 2192.1 L1155.0 2173.8 L1162.2 2167.3 L1169.4 2158.8 L1177.1 2151.5 L1184.8 2143.4 L1190.8 2141.3 L1196.8 2138.2 L1204.5 2138.5 L1212.3 2139.5 L1220.0 2139.7 L1227.7 2140.7 L1235.5 2136.2 L1243.2 2131.5 L1251.0 2125.9 L1258.7 2120.8 L1266.4 2114.5 L1274.1 2108.4 L1281.8 2102.6 L1289.6 2097.8 L1297.5 2093.2 L1305.4 2087.2 L1313.8 2082.4 L1322.1 2078.6 L1330.5 2073.9 L1338.8 2070.0 L1347.9 2066.7 L1357.0 2063.1 L1364.8 2059.9 L1372.5 2058.8 L1378.8 2059.3 L1385.1 2060.1 L1391.4 2061.5 L1399.5 2064.6 L1407.7 2068.8 L1415.8 2073.7 L1424.0 2076.6 L1432.0 2080.2 L1440.0 2084.0 L1448.0 2086.8 L1456.0 2090.9 L1462.9 2093.0 L1469.8 2094.9 L1476.6 2097.3 L1483.5 2098.6 L1490.4 2101.2 L1497.3 2103.3 L1504.1 2107.6 L1511.0 2109.3 L1517.8 2112.5 L1524.7 2115.6 L1531.6 2118.7 L1538.5 2122.5 L1545.3 2125.5 L1552.2 2128.5 L1559.1 2131.1 L1566.0 2135.3 L1572.8 2137.1 L1579.7 2140.4 L1586.5 2144.1 L1593.4 2147.6 L1600.3 2151.5 L1607.1 2155.2 L1614.0 2157.1 L1620.8 2161.7 L1627.7 2164.6 L1635.2 2167.9 L1642.7 2170.3 L1650.1 2175.2 L1657.6 2178.7 L1665.1 2180.4 L1672.5 2183.8 L1680.0 2187.2 L1687.5 2191.0 L1694.9 2192.2 L1702.2 2195.5 L1709.6 2196.3 L1716.9 2198.4 L1724.3 2199.3 L1731.6 2202.6 L1739.0 2203.5 L1746.4 2204.6 L1753.7 2206.6 L1761.1 2206.5 L1768.5 2208.3 L1775.9 2209.3 L1783.2 2210.0 L1790.6 2211.0 L1797.5 2211.4 L1804.3 2213.1 L1811.2 2212.4 L1818.0 2214.3 L1824.9 2215.0 L1833.5 2216.8 L1842.1 2217.3 L1849.0 2217.7 L1855.8 2218.4 L1862.7 2220.3 L1869.5 2219.7 L1876.4 2221.3 L1883.3 2221.2 L1890.1 2219.9 L1897.0 2217.4 L1903.8 2217.3 L1910.7 2216.1 L1918.4 2215.4 L1926.2 2215.9 L1933.9 2214.5 L1941.6 2213.7" fill="none" stroke="#0070c0" stroke-width="4" stroke-linejoin="round"/>
<path d="M377.1 3208.9h0M384.0 3208.6h0M390.8 3209.5h0M397.6 3209.5h0M404.5 3208.9h0M411.4 3208.7h0M418.2 3207.7h0M425.1 3206.8h0M432.0 3207.1h0M449.2 3202.0h0M462.9 3190.0h0M476.6 3174.5h0M490.4 3159.1h0M505.8 3138.5h0M521.3 3117.9h0M536.7 3099.0h0M552.2 3078.4h0M565.9 3059.5h0M579.7 3038.9h0M593.4 3021.7h0M607.1 3006.3h0M622.6 2990.8h0M638.0 2977.1h0M653.5 2962.2h0M669.0 2949.1h0M684.4 2937.7h0M699.9 2924.1h0M715.3 2912.4h0M730.8 2900.6h0M744.0 2889.6h0M759.5 2876.9h0M774.9 2864.1h0M790.4 2852.3h0M805.8 2842.3h0M821.3 2832.4h0M836.7 2820.9h0M850.5 2809.6h0M862.5 2797.4h0M875.5 2781.8h0M890.0 2761.1h0M904.7 2733.5h0M920.2 2706.0h0M934.6 2670.0h0M950.1 2632.2h0M962.1 2592.7h0M977.5 2551.5h0M993.0 2508.6h0M1007.3 2465.1h0M1022.8 2422.2h0M1038.3 2382.7h0M1053.7 2348.4h0M1068.1 2320.9h0M1082.9 2291.7h0M1096.6 2264.2h0M1112.1 2238.5h0M1125.8 2214.4h0M1139.6 2192.1h0M1155.0 2173.8h0M1162.2 2167.3h0M1169.4 2158.8h0M1177.1 2151.5h0M1184.8 2143.4h0M1190.8 2141.3h0M1196.8 2138.2h0M1204.5 2138.5h0M1212.3 2139.5h0M1220.0 2139.7h0M1227.7 2140.7h0M1235.5 2136.2h0M1243.2 2131.5h0M1251.0 2125.9h0M1258.7 2120.8h0M1266.4 2114.5h0M1274.1 2108.4h0M1281.8 2102.6h0M1289.6 2097.8h0M1297.5 2093.2h0M1305.4 2087.2h0M1313.8 2082.4h0M1322.1 2078.6h0M1330.5 2073.9h0M1338.8 2070.0h0M1347.9 2066.7h0M1357.0 2063.1h0M1364.8 2059.9h0M1372.5 2058.8h0M1378.8 2059.3h0M1385.1 2060.1h0M1391.4 2061.5h0M1399.5 2064.6h0M1407.7 2068.8h0M1415.8 2073.7h0M1424.0 2076.6h0M1432.0 2080.2h0M1440.0 2084.0h0M1448.0 2086.8h0M1456.0 2090.9h0M1462.9 2093.0h0M1469.8 2094.9h0M1476.6 2097.3h0M1483.5 2098.6h0M1490.4 2101.2h0M1497.3 2103.3h0M1504.1 2107.6h0M1511.0 2109.3h0M1517.8 2112.5h0M1524.7 2115.6h0M1531.6 2118.7h0M1538.5 2122.5h0M1545.3 2125.5h0M1552.2 2128.5h0M1559.1 2131.1h0M1566.0 2135.3h0M1572.8 2137.1h0M1579.7 2140.4h0M1586.5 2144.1h0M1593.4 2147.6h0M1600.3 2151.5h0M1607.1 2155.2h0M1614.0 2157.1h0M1620.8 2161.7h0M1627.7 2164.6h0M1635.2 2167.9h0M1642.7 2170.3h0M1650.1 2175.2h0M1657.6 2178.7h0M1665.1 2180.4h0M1672.5 2183.8h0M1680.0 2187.2h0M1687.5 2191.0h0M1694.9 2192.2h0M1702.2 2195.5h0M1709.6 2196.3h0M1716.9 2198.4h0M1724.3 2199.3h0M1731.6 2202.6h0M1739.0 2203.5h0M1746.4 2204.6h0M1753.7 2206.6h0M1761.1 2206.5h0M1768.5 2208.3h0M1775.9 2209.3h0M1783.2 2210.0h0M1790.6 2211.0h0M1797.5 2211.4h0M1804.3 2213.1h0M1811.2 2212.4h0M1818.0 2214.3h0M1824.9 2215.0h0M1833.5 2216.8h0M1842.1 2217.3h0M1849.0 2217.7h0M1855.8 2218.4h0M1862.7 2220.3h0M1869.5 2219.7h0M1876.4 2221.3h0M1883.3 2221.2h0M1890.1 2219.9h0M1897.0 2217.4h0M1903.8 2217.3h0M1910.7 2216.1h0M1918.4 2215.4h0M1926.2 2215.9h0M1933.9 2214.5h0M1941.6 2213.7h0" fill="none" stroke="#0070c0" stroke-width="29.2" stroke-linecap="round"/>
<path d="M337.6 3208.9 L345.3 3206.0 L353.0 3203.7 L360.8 3202.6 L368.5 3200.3 L376.2 3200.9 L383.9 3200.3 L391.6 3199.7 L399.4 3198.6 L407.1 3197.4 L414.8 3196.8 L421.7 3194.3 L428.6 3193.4 L444.0 3183.1 L457.8 3162.5 L473.2 3138.5 L488.7 3112.7 L502.4 3085.2 L517.2 3057.8 L531.6 3026.9 L547.0 2992.5 L561.8 2956.5 L576.9 2920.4 L590.0 2884.3 L601.5 2850.3 L617.0 2824.5 L632.4 2803.9 L646.2 2786.7 L661.6 2767.9 L677.1 2743.8 L692.5 2716.3 L708.0 2682.0 L725.1 2644.2 L738.2 2608.2 L752.6 2570.4 L768.1 2534.3 L783.4 2494.3 L798.6 2453.1 L813.3 2411.9 L828.1 2369.0 L843.5 2328.8 L856.9 2291.5 L870.6 2253.7 L886.1 2214.2 L901.5 2178.2 L917.0 2145.5 L931.7 2118.1 L946.8 2099.2 L961.6 2082.0 L968.5 2076.1 L975.3 2068.3 L981.6 2063.5 L988.0 2058.0 L995.4 2064.5 L1002.8 2070.0 L1010.5 2067.0 L1018.3 2064.8 L1026.0 2061.9 L1033.7 2059.7 L1041.5 2056.3 L1049.2 2052.8 L1056.9 2048.2 L1064.6 2044.2 L1072.3 2040.6 L1080.1 2037.4 L1087.8 2032.1 L1095.5 2027.9 L1103.2 2024.6 L1111.0 2020.0 L1118.7 2017.4 L1126.4 2015.6 L1134.2 2013.0 L1141.9 2011.3 L1149.6 2009.1 L1157.3 2006.5 L1165.0 2003.9 L1172.8 2003.2 L1180.5 2000.3 L1188.3 1998.0 L1196.0 1995.0 L1203.7 1993.0 L1211.5 1990.7 L1219.2 1989.6 L1226.9 1986.8 L1234.6 1984.5 L1242.3 1983.7 L1250.1 1981.2 L1257.8 1979.5 L1265.5 1977.7 L1271.8 1977.1 L1278.1 1975.5 L1284.4 1975.1 L1292.2 1976.1 L1299.9 1977.0 L1306.2 1978.4 L1312.4 1980.4 L1318.7 1981.7 L1326.3 1984.6 L1334.0 1988.5 L1341.8 1992.2 L1349.6 1997.4 L1356.5 2004.6 L1363.3 2009.9 L1370.2 2017.0 L1378.8 2025.2 L1387.4 2033.8 L1396.0 2041.9 L1404.5 2049.9 L1413.1 2055.2 L1421.7 2059.1 L1430.3 2063.4 L1438.9 2066.6 L1447.5 2070.8 L1456.0 2074.1 L1464.6 2078.7 L1473.2 2081.7 L1481.8 2086.6 L1490.4 2092.7 L1499.0 2097.3 L1507.6 2103.2 L1516.2 2107.1 L1524.7 2111.4 L1533.3 2114.3 L1541.9 2116.1 L1550.5 2118.4 L1559.1 2119.1 L1567.7 2119.9 L1576.2 2122.1 L1584.8 2123.3 L1593.4 2123.4 L1602.0 2125.0 L1610.6 2126.6 L1617.4 2127.6 L1624.3 2130.2 L1641.3 2211.0 L1650.0 2209.8 L1658.7 2207.1 L1665.6 2208.3 L1672.4 2206.9 L1679.3 2207.9 L1687.8 2209.2 L1696.2 2211.2 L1704.7 2213.6 L1711.6 2213.9 L1718.4 2216.5 L1725.3 2216.4 L1732.1 2217.7 L1739.0 2218.3 L1745.9 2218.8 L1752.8 2221.4 L1759.6 2221.6 L1766.5 2223.6 L1773.4 2223.7 L1782.0 2224.4 L1790.6 2225.4 L1799.2 2224.7 L1807.7 2223.0 L1814.6 2221.7 L1821.5 2219.7 L1828.3 2217.5 L1835.2 2216.7 L1842.1 2214.4 L1849.0 2211.7 L1855.8 2211.1 L1862.7 2209.9 L1869.5 2207.1 L1876.4 2205.8 L1883.3 2203.6 L1890.1 2203.0 L1897.0 2199.9 L1903.8 2199.9 L1910.7 2197.3 L1917.6 2196.3 L1924.5 2193.1 L1931.3 2192.3 L1938.2 2190.4" fill="none" stroke="#ff7f00" stroke-width="4" stroke-linejoin="round"/>
<path d="M337.6 3208.9h0M345.3 3206.0h0M353.0 3203.7h0M360.8 3202.6h0M368.5 3200.3h0M376.2 3200.9h0M383.9 3200.3h0M391.6 3199.7h0M399.4 3198.6h0M407.1 3197.4h0M414.8 3196.8h0M421.7 3194.3h0M428.6 3193.4h0M444.0 3183.1h0M457.8 3162.5h0M473.2 3138.5h0M488.7 3112.7h0M502.4 3085.2h0M517.2 3057.8h0M531.6 3026.9h0M547.0 2992.5h0M561.8 2956.5h0M576.9 2920.4h0M590.0 2884.3h0M601.5 2850.3h0M617.0 2824.5h0M632.4 2803.9h0M646.2 2786.7h0M661.6 2767.9h0M677.1 2743.8h0M692.5 2716.3h0M708.0 2682.0h0M725.1 2644.2h0M738.2 2608.2h0M752.6 2570.4h0M768.1 2534.3h0M783.4 2494.3h0M798.6 2453.1h0M813.3 2411.9h0M828.1 2369.0h0M843.5 2328.8h0M856.9 2291.5h0M870.6 2253.7h0M886.1 2214.2h0M901.5 2178.2h0M917.0 2145.5h0M931.7 2118.1h0M946.8 2099.2h0M961.6 2082.0h0M968.5 2076.1h0M975.3 2068.3h0M981.6 2063.5h0M988.0 2058.0h0M995.4 2064.5h0M1002.8 2070.0h0M1010.5 2067.0h0M1018.3 2064.8h0M1026.0 2061.9h0M1033.7 2059.7h0M1041.5 2056.3h0M1049.2 2052.8h0M1056.9 2048.2h0M1064.6 2044.2h0M1072.3 2040.6h0M1080.1 2037.4h0M1087.8 2032.1h0M1095.5 2027.9h0M1103.2 2024.6h0M1111.0 2020.0h0M1118.7 2017.4h0M1126.4 2015.6h0M1134.2 2013.0h0M1141.9 2011.3h0M1149.6 2009.1h0M1157.3 2006.5h0M1165.0 2003.9h0M1172.8 2003.2h0M1180.5 2000.3h0M1188.3 1998.0h0M1196.0 1995.0h0M1203.7 1993.0h0M1211.5 1990.7h0M1219.2 1989.6h0M1226.9 1986.8h0M1234.6 1984.5h0M1242.3 1983.7h0M1250.1 1981.2h0M1257.8 1979.5h0M1265.5 1977.7h0M1271.8 1977.1h0M1278.1 1975.5h0M1284.4 1975.1h0M1292.2 1976.1h0M1299.9 1977.0h0M1306.2 1978.4h0M1312.4 1980.4h0M1318.7 1981.7h0M1326.3 1984.6h0M1334.0 1988.5h0M1341.8 1992.2h0M1349.6 1997.4h0M1356.5 2004.6h0M1363.3 2009.9h0M1370.2 2017.0h0M1378.8 2025.2h0M1387.4 2033.8h0M1396.0 2041.9h0M1404.5 2049.9h0M1413.1 2055.2h0M1421.7 2059.1h0M1430.3 2063.4h0M1438.9 2066.6h0M1447.5 2070.8h0M1456.0 2074.1h0M1464.6 2078.7h0M1473.2 2081.7h0M1481.8 2086.6h0M1490.4 2092.7h0M1499.0 2097.3h0M1507.6 2103.2h0M1516.2 2107.1h0M1524.7 2111.4h0M1533.3 2114.3h0M1541.9 2116.1h0M1550.5 2118.4h0M1559.1 2119.1h0M1567.7 2119.9h0M1576.2 2122.1h0M1584.8 2123.3h0M1593.4 2123.4h0M1602.0 2125.0h0M1610.6 2126.6h0M1617.4 2127.6h0M1624.3 2130.2h0M1641.3 2211.0h0M1650.0 2209.8h0M1658.7 2207.1h0M1665.6 2208.3h0M1672.4 2206.9h0M1679.3 2207.9h0M1687.8 2209.2h0M1696.2 2211.2h0M1704.7 2213.6h0M1711.6 2213.9h0M1718.4 2216.5h0M1725.3 2216.4h0M1732.1 2217.7h0M1739.0 2218.3h0M1745.9 2218.8h0M1752.8 2221.4h0M1759.6 2221.6h0M1766.5 2223.6h0M1773.4 2223.7h0M1782.0 2224.4h0M1790.6 2225.4h0M1799.2 2224.7h0M1807.7 2223.0h0M1814.6 2221.7h0M1821.5 2219.7h0M1828.3 2217.5h0M1835.2 2216.7h0M1842.1 2214.4h0M1849.0 2211.7h0M1855.8 2211.1h0M1862.7 2209.9h0M1869.5 2207.1h0M1876.4 2205.8h0M1883.3 2203.6h0M1890.1 2203.0h0M1897.0 2199.9h0M1903.8 2199.9h0M1910.7 2197.3h0M1917.6 2196.3h0M1924.5 2193.1h0M1931.3 2192.3h0M1938.2 2190.4h0" fill="none" stroke="#ff7f00" stroke-width="29.2" stroke-linecap="round"/>
<path d="M291.2 3207.1 L298.0 3204.2 L304.9 3202.0 L320.4 3190.0 L334.1 3165.9 L347.9 3141.9 L361.6 3121.3 L377.1 3104.1 L392.5 3083.5 L407.3 3059.5 L422.7 3035.4 L438.2 3011.4 L449.2 2989.7 L464.6 2966.6 L478.4 2945.3 L493.8 2927.4 L509.3 2908.9 L524.7 2891.8 L540.2 2883.2 L555.6 2889.0 L571.1 2894.0 L586.1 2888.0 L599.8 2882.0 L613.7 2871.3 L629.0 2850.4 L643.8 2825.6 L658.2 2797.4 L671.9 2774.4 L687.4 2753.2 L701.1 2730.6 L716.6 2707.9 L730.3 2687.2 L745.1 2668.3 L759.5 2649.4 L774.9 2630.5 L790.4 2613.3 L805.8 2597.9 L821.3 2584.1 L835.7 2572.1 L850.5 2561.8 L865.9 2548.1 L881.4 2530.9 L896.8 2515.5 L907.8 2494.3 L922.5 2473.7 L937.6 2451.4 L953.1 2423.9 L967.9 2401.6 L983.3 2375.8 L998.8 2355.2 L1013.2 2329.5 L1028.0 2307.2 L1041.7 2284.8 L1055.4 2268.8 L1063.2 2263.2 L1070.9 2256.4 L1077.8 2251.8 L1084.6 2246.0 L1092.3 2240.2 L1100.1 2233.8 L1107.8 2229.0 L1115.5 2224.7 L1123.2 2219.4 L1131.0 2215.7 L1138.7 2212.9 L1146.4 2208.1 L1154.2 2205.6 L1161.9 2202.2 L1169.6 2200.7 L1177.3 2198.2 L1185.0 2196.9 L1192.8 2196.4 L1201.7 2195.9 L1210.6 2196.2 L1219.2 2196.3 L1227.7 2196.2 L1236.3 2195.0 L1244.9 2194.4 L1253.5 2193.6 L1262.1 2193.1 L1270.7 2191.7 L1279.3 2191.4 L1287.8 2190.4 L1296.4 2187.9 L1303.8 2185.8 L1311.3 2184.1 L1318.7 2182.8 L1325.6 2182.9 L1332.4 2181.6 L1339.3 2182.1 L1346.1 2181.8 L1353.0 2182.2 L1359.9 2181.6 L1366.8 2182.1 L1373.6 2183.3 L1380.5 2182.5 L1387.4 2182.5 L1394.3 2182.8 L1401.1 2182.1 L1408.0 2182.6 L1414.8 2182.5 L1421.7 2182.7 L1430.3 2184.2 L1438.9 2185.2 L1447.5 2184.3 L1456.0 2184.4 L1464.6 2184.3 L1473.2 2185.7 L1481.8 2185.0 L1490.4 2183.1 L1497.3 2182.3 L1504.1 2182.4 L1511.0 2182.4 L1517.8 2182.8 L1524.7 2181.8 L1531.1 2182.3 L1537.6 2182.0 L1544.0 2181.4 L1551.7 2180.8 L1559.3 2177.9 L1567.0 2177.0 L1573.9 2175.4 L1580.9 2174.8 L1587.8 2174.5 L1594.8 2173.8 L1601.7 2172.0 L1608.6 2170.0 L1615.4 2170.0 L1622.3 2168.1 L1629.1 2166.0 L1636.0 2165.5 L1642.9 2164.9 L1649.8 2163.8 L1656.6 2160.9 L1663.5 2159.7 L1670.4 2159.0 L1677.3 2157.2 L1684.1 2155.8 L1691.0 2156.1 L1697.8 2153.8 L1704.7 2152.5 L1711.6 2151.4 L1718.4 2149.1 L1725.3 2149.2 L1732.1 2146.9 L1739.0 2145.5 L1745.9 2144.9 L1752.8 2142.1 L1759.6 2141.2 L1766.5 2139.5 L1773.4 2137.5 L1780.3 2136.4 L1787.1 2134.7 L1794.0 2134.5 L1800.8 2131.7 L1807.7 2131.5 L1814.6 2131.1 L1821.5 2131.0 L1828.3 2129.3 L1835.2 2128.6 L1842.1 2128.6 L1849.0 2128.9 L1855.8 2127.1 L1862.7 2128.6 L1869.5 2128.0 L1876.4 2127.0 L1883.3 2125.9 L1890.1 2126.5 L1897.0 2126.0 L1903.8 2126.8 L1910.7 2125.5 L1918.9 2125.5 L1927.1 2125.2 L1935.2 2124.1 L1943.4 2124.7" fill="none" stroke="#00a316" stroke-width="4" stroke-linejoin="round"/>
<path d="M291.2 3207.1h0M298.0 3204.2h0M304.9 3202.0h0M320.4 3190.0h0M334.1 3165.9h0M347.9 3141.9h0M361.6 3121.3h0M377.1 3104.1h0M392.5 3083.5h0M407.3 3059.5h0M422.7 3035.4h0M438.2 3011.4h0M449.2 2989.7h0M464.6 2966.6h0M478.4 2945.3h0M493.8 2927.4h0M509.3 2908.9h0M524.7 2891.8h0M540.2 2883.2h0M555.6 2889.0h0M571.1 2894.0h0M586.1 2888.0h0M599.8 2882.0h0M613.7 2871.3h0M629.0 2850.4h0M643.8 2825.6h0M658.2 2797.4h0M671.9 2774.4h0M687.4 2753.2h0M701.1 2730.6h0M716.6 2707.9h0M730.3 2687.2h0M745.1 2668.3h0M759.5 2649.4h0M774.9 2630.5h0M790.4 2613.3h0M805.8 2597.9h0M821.3 2584.1h0M835.7 2572.1h0M850.5 2561.8h0M865.9 2548.1h0M881.4 2530.9h0M896.8 2515.5h0M907.8 2494.3h0M922.5 2473.7h0M937.6 2451.4h0M953.1 2423.9h0M967.9 2401.6h0M983.3 2375.8h0M998.8 2355.2h0M1013.2 2329.5h0M1028.0 2307.2h0M1041.7 2284.8h0M1055.4 2268.8h0M1063.2 2263.2h0M1070.9 2256.4h0M1077.8 2251.8h0M1084.6 2246.0h0M1092.3 2240.2h0M1100.1 2233.8h0M1107.8 2229.0h0M1115.5 2224.7h0M1123.2 2219.4h0M1131.0 2215.7h0M1138.7 2212.9h0M1146.4 2208.1h0M1154.2 2205.6h0M1161.9 2202.2h0M1169.6 2200.7h0M1177.3 2198.2h0M1185.0 2196.9h0M1192.8 2196.4h0M1201.7 2195.9h0M1210.6 2196.2h0M1219.2 2196.3h0M1227.7 2196.2h0M1236.3 2195.0h0M1244.9 2194.4h0M1253.5 2193.6h0M1262.1 2193.1h0M1270.7 2191.7h0M1279.3 2191.4h0M1287.8 2190.4h0M1296.4 2187.9h0M1303.8 2185.8h0M1311.3 2184.1h0M1318.7 2182.8h0M1325.6 2182.9h0M1332.4 2181.6h0M1339.3 2182.1h0M1346.1 2181.8h0M1353.0 2182.2h0M1359.9 2181.6h0M1366.8 2182.1h0M1373.6 2183.3h0M1380.5 2182.5h0M1387.4 2182.5h0M1394.3 2182.8h0M1401.1 2182.1h0M1408.0 2182.6h0M1414.8 2182.5h0M1421.7 2182.7h0M1430.3 2184.2h0M1438.9 2185.2h0M1447.5 2184.3h0M1456.0 2184.4h0M1464.6 2184.3h0M1473.2 2185.7h0M1481.8 2185.0h0M1490.4 2183.1h0M1497.3 2182.3h0M1504.1 2182.4h0M1511.0 2182.4h0M1517.8 2182.8h0M1524.7 2181.8h0M1531.1 2182.3h0M1537.6 2182.0h0M1544.0 2181.4h0M1551.7 2180.8h0M1559.3 2177.9h0M1567.0 2177.0h0M1573.9 2175.4h0M1580.9 2174.8h0M1587.8 2174.5h0M1594.8 2173.8h0M1601.7 2172.0h0M1608.6 2170.0h0M1615.4 2170.0h0M1622.3 2168.1h0M1629.1 2166.0h0M1636.0 2165.5h0M1642.9 2164.9h0M1649.8 2163.8h0M1656.6 2160.9h0M1663.5 2159.7h0M1670.4 2159.0h0M1677.3 2157.2h0M1684.1 2155.8h0M1691.0 2156.1h0M1697.8 2153.8h0M1704.7 2152.5h0M1711.6 2151.4h0M1718.4 2149.1h0M1725.3 2149.2h0M1732.1 2146.9h0M1739.0 2145.5h0M1745.9 2144.9h0M1752.8 2142.1h0M1759.6 2141.2h0M1766.5 2139.5h0M1773.4 2137.5h0M1780.3 2136.4h0M1787.1 2134.7h0M1794.0 2134.5h0M1800.8 2131.7h0M1807.7 2131.5h0M1814.6 2131.1h0M1821.5 2131.0h0M1828.3 2129.3h0M1835.2 2128.6h0M1842.1 2128.6h0M1849.0 2128.9h0M1855.8 2127.1h0M1862.7 2128.6h0M1869.5 2128.0h0M1876.4 2127.0h0M1883.3 2125.9h0M1890.1 2126.5h0M1897.0 2126.0h0M1903.8 2126.8h0M1910.7 2125.5h0M1918.9 2125.5h0M1927.1 2125.2h0M1935.2 2124.1h0M1943.4 2124.7h0" fill="none" stroke="#00a316" stroke-width="29.2" stroke-linecap="round"/>
<g font-size="79" text-anchor="end">
<text x="226.0" y="3229.5" textLength="35.6" lengthAdjust="spacingAndGlyphs">0</text>
<text x="226.0" y="3062.9" textLength="35.6" lengthAdjust="spacingAndGlyphs">2</text>
<text x="226.0" y="2896.2" textLength="35.6" lengthAdjust="spacingAndGlyphs">4</text>
<text x="226.0" y="2729.6" textLength="35.6" lengthAdjust="spacingAndGlyphs">6</text>
<text x="226.0" y="2563.0" textLength="35.6" lengthAdjust="spacingAndGlyphs">8</text>
<text x="226.0" y="2396.4" textLength="70.7" lengthAdjust="spacingAndGlyphs">10</text>
<text x="226.0" y="2229.8" textLength="70.7" lengthAdjust="spacingAndGlyphs">12</text>
<text x="226.0" y="2063.1" textLength="70.7" lengthAdjust="spacingAndGlyphs">14</text>
<text x="226.0" y="1896.5" textLength="70.7" lengthAdjust="spacingAndGlyphs">16</text>
</g>
<g font-size="77" text-anchor="middle">
<text x="292.9" y="3320.0" textLength="34.6" lengthAdjust="spacingAndGlyphs">0</text>
<text x="529.9" y="3320.0" textLength="34.6" lengthAdjust="spacingAndGlyphs">1</text>
<text x="767.0" y="3320.0" textLength="34.6" lengthAdjust="spacingAndGlyphs">2</text>
<text x="1004.0" y="3320.0" textLength="34.6" lengthAdjust="spacingAndGlyphs">3</text>
<text x="1241.0" y="3320.0" textLength="34.6" lengthAdjust="spacingAndGlyphs">4</text>
<text x="1478.0" y="3320.0" textLength="34.6" lengthAdjust="spacingAndGlyphs">5</text>
<text x="1715.1" y="3320.0" textLength="34.6" lengthAdjust="spacingAndGlyphs">6</text>
<text x="1952.1" y="3320.0" textLength="34.6" lengthAdjust="spacingAndGlyphs">7</text>
</g>
<text x="1175.6" y="3398.3" font-size="87" text-anchor="middle" textLength="840.5" lengthAdjust="spacingAndGlyphs">Shear displacement/mm</text>
<text transform="translate(143.8 2559.7) rotate(-90)" font-size="87" text-anchor="middle" word-spacing="0" textLength="608.5" lengthAdjust="spacingAndGlyphs">Shear stress/MPa</text>
<path d="M338.3 1926.4H464.3" stroke="#0070c0" stroke-width="4.5" fill="none"/><circle cx="399.5" cy="1926.4" r="15" fill="#0070c0"/><text x="475.5" y="1947.6" font-size="76.5" textLength="258" lengthAdjust="spacingAndGlyphs">S2-MG1</text>
<path d="M338.3 2026.6H464.3" stroke="#ff7f00" stroke-width="4.5" fill="none"/><circle cx="399.5" cy="2026.6" r="15" fill="#ff7f00"/><text x="475.5" y="2047.2" font-size="76.5" textLength="258" lengthAdjust="spacingAndGlyphs">S2-MG2</text>
<path d="M338.3 2126.9H464.3" stroke="#00a316" stroke-width="4.5" fill="none"/><circle cx="399.5" cy="2126.9" r="15" fill="#00a316"/><text x="475.5" y="2148.5" font-size="76.5" textLength="258" lengthAdjust="spacingAndGlyphs">S2-MG3</text>
</g>
<text x="1033.5" y="3515" font-size="84" letter-spacing="-1.5" text-anchor="middle" fill="#000" style="fill:#000">(<tspan font-weight="bold">b</tspan>)</text>
</svg>
</body></html>
